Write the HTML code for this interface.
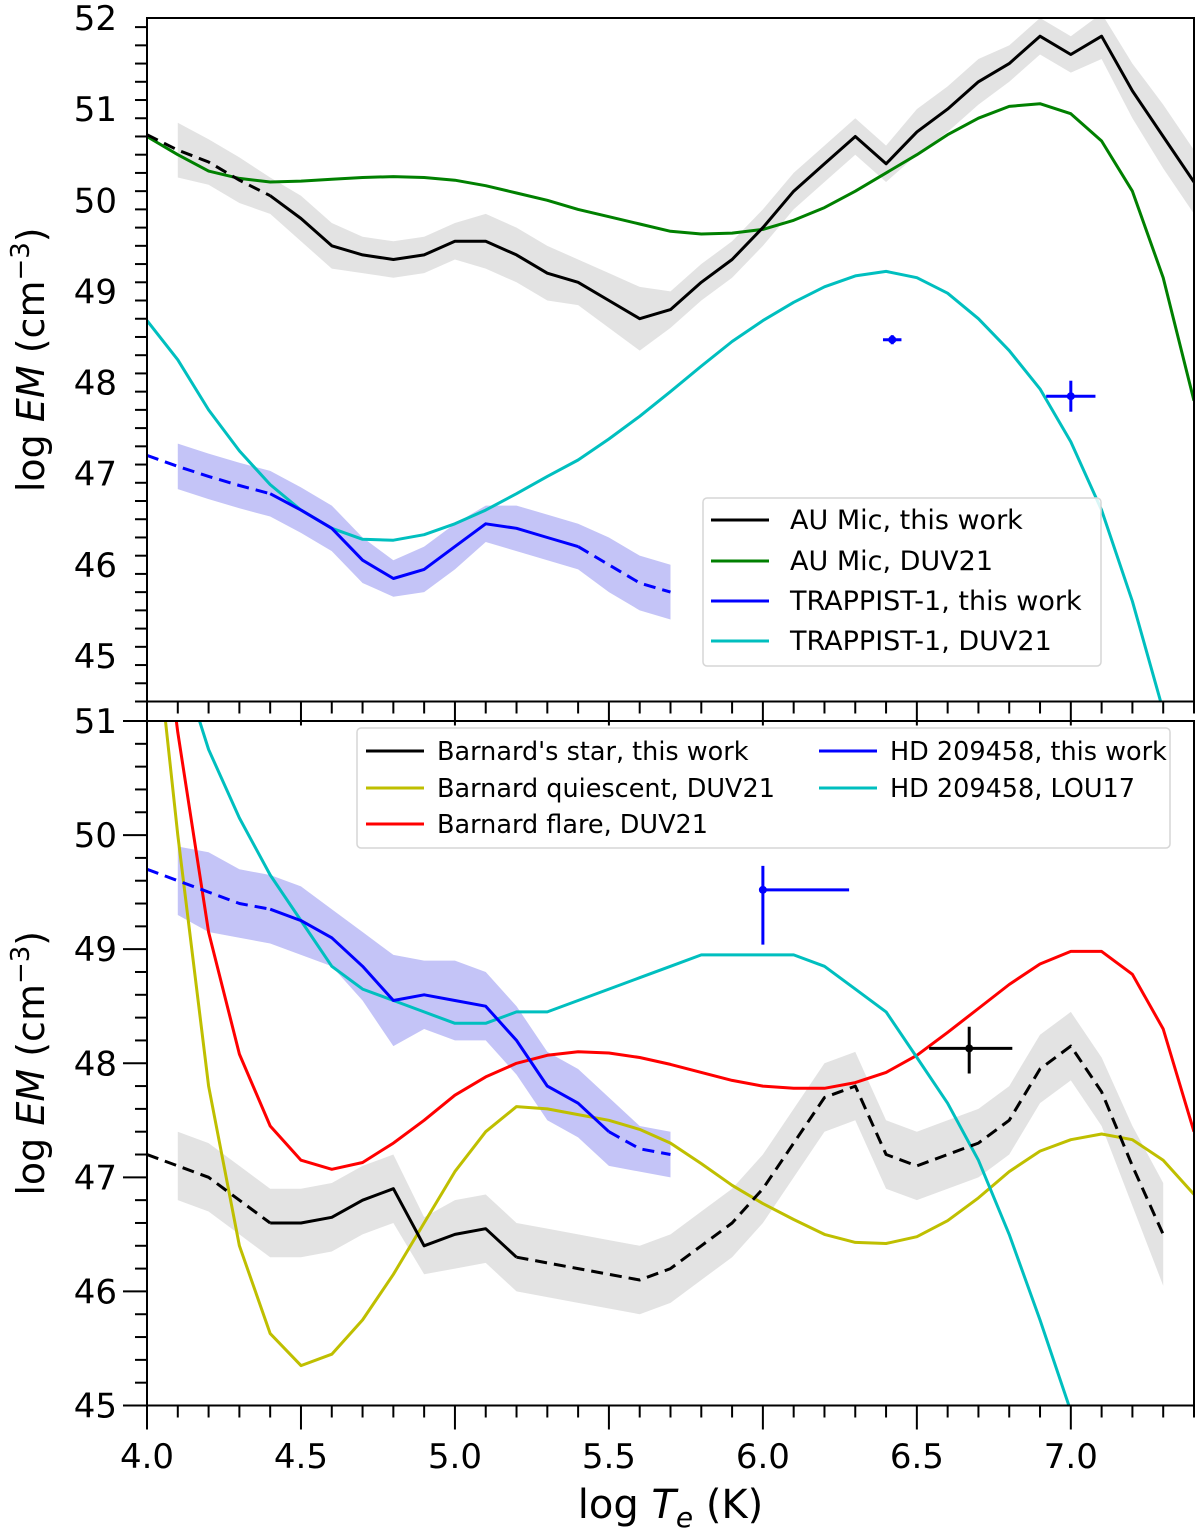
<!DOCTYPE html>
<html><head><meta charset="utf-8"><style>
html,body{margin:0;padding:0;background:#fff;}
svg{display:block;font-family:"DejaVu Sans","Liberation Sans",sans-serif;}
</style></head><body>
<svg id="chart" width="1200" height="1533" xmlns="http://www.w3.org/2000/svg"></svg>
<script>
// ---- data ----
const tGrid = [4.0,4.1,4.2,4.3,4.4,4.5,4.6,4.7,4.8,4.9,5.0,5.1,5.2,5.3,5.4,5.5,5.6,5.7,5.8,5.9,6.0,6.1,6.2,6.3,6.4,6.5,6.6,6.7,6.8,6.9,7.0,7.1,7.2,7.3,7.4];
const auMicWork = [50.72,50.55,50.42,50.22,50.05,49.8,49.5,49.4,49.35,49.4,49.55,49.55,49.4,49.2,49.1,48.9,48.7,48.8,49.1,49.35,49.7,50.1,50.4,50.7,50.4,50.75,51.0,51.3,51.5,51.8,51.6,51.8,51.2,50.7,50.2];
const auMicErr = [0.15,0.3,0.25,0.25,0.2,0.25,0.25,0.2,0.2,0.2,0.2,0.3,0.3,0.3,0.25,0.3,0.35,0.2,0.2,0.2,0.2,0.2,0.2,0.2,0.2,0.25,0.25,0.25,0.2,0.2,0.2,0.25,0.3,0.35,0.35];
const auMicDuv = [50.7,50.5,50.32,50.24,50.2,50.21,50.23,50.25,50.26,50.25,50.22,50.16,50.08,50.0,49.9,49.82,49.74,49.66,49.63,49.64,49.68,49.78,49.92,50.1,50.3,50.5,50.72,50.9,51.03,51.06,50.95,50.65,50.1,49.15,47.8];
const trapDuv = [48.68,48.25,47.7,47.25,46.88,46.6,46.4,46.28,46.27,46.33,46.45,46.6,46.78,46.97,47.15,47.38,47.63,47.9,48.18,48.45,48.68,48.88,49.05,49.17,49.22,49.15,48.98,48.7,48.35,47.93,47.35,46.6,45.6,44.4];
const trapWork = [47.2,47.08,46.97,46.87,46.78,46.6,46.4,46.05,45.85,45.95,46.2,46.45,46.4,46.3,46.2,46.0,45.8,45.7];
const trapErr = [0.25,0.25,0.25,0.25,0.25,0.25,0.25,0.25,0.2,0.25,0.25,0.2,0.25,0.25,0.25,0.3,0.3,0.3];
const topPoints = [[6.42,48.47,0.03,0.03,0.05,0.05],[7.0,47.85,0.08,0.08,0.17,0.17]];

const barnWork = [47.2,47.1,47.0,46.8,46.6,46.6,46.65,46.8,46.9,46.4,46.5,46.55,46.3,46.25,46.2,46.15,46.1,46.2,46.4,46.6,46.9,47.3,47.7,47.8,47.2,47.1,47.2,47.3,47.5,47.95,48.15,47.75,47.1,46.5];
const barnErr = [0.3,0.3,0.3,0.3,0.3,0.3,0.3,0.3,0.3,0.25,0.3,0.3,0.3,0.3,0.3,0.3,0.3,0.3,0.3,0.3,0.3,0.3,0.3,0.3,0.3,0.3,0.3,0.3,0.3,0.3,0.3,0.3,0.35,0.45];
const barnQuiet = [52.5,50.0,47.8,46.4,45.63,45.35,45.45,45.75,46.15,46.6,47.05,47.4,47.62,47.6,47.55,47.5,47.42,47.3,47.12,46.93,46.77,46.63,46.5,46.43,46.42,46.48,46.62,46.82,47.05,47.23,47.33,47.38,47.33,47.15,46.85];
const barnFlare = [53.0,50.9,49.15,48.08,47.45,47.15,47.07,47.13,47.3,47.5,47.72,47.88,48.0,48.07,48.1,48.09,48.05,47.99,47.92,47.85,47.8,47.78,47.78,47.83,47.92,48.07,48.27,48.48,48.69,48.87,48.98,48.98,48.78,48.3,47.4];
const hdLou = [52.6,51.6,50.75,50.15,49.65,49.25,48.85,48.65,48.55,48.45,48.35,48.35,48.45,48.45,48.55,48.65,48.75,48.85,48.95,48.95,48.95,48.95,48.85,48.65,48.45,48.05,47.65,47.15,46.5,45.75,44.95];
const hdWork = [49.7,49.6,49.5,49.4,49.35,49.25,49.1,48.85,48.55,48.6,48.55,48.5,48.2,47.8,47.65,47.4,47.25,47.2];
const hdErr = [0.3,0.3,0.35,0.3,0.3,0.3,0.25,0.3,0.4,0.3,0.35,0.3,0.3,0.3,0.3,0.3,0.2,0.2];
const botPoints = [[6.0,49.52,0,0.28,0.48,0.21,'#0000ff'],[6.67,48.13,0.13,0.14,0.22,0.19,'#000000']];
const topYTicks = [45,46,47,48,49,50,51,52];
const botYTicks = [45,46,47,48,49,50,51];
const xTicks = [4.0,4.5,5.0,5.5,6.0,6.5,7.0];

// ---- scales ----
const svg = document.getElementById('chart');
const NS = 'http://www.w3.org/2000/svg';
const X0=147, X1=1194, XMIN=4.0, XMAX=7.4;
const sx = t => X0 + (t-XMIN)/(XMAX-XMIN)*(X1-X0);
const panels = {
  top:{y0:18,y1:701.5,vmin:44.5,vmax:52},
  bot:{y0:721,y1:1405.5,vmin:45,vmax:51}
};
const sy = (p,v) => p.y0 + (p.vmax-v)/(p.vmax-p.vmin)*(p.y1-p.y0);
function mk(tag, attrs, parent){
  const e=document.createElementNS(NS,tag);
  for(const k in attrs) e.setAttribute(k,attrs[k]);
  (parent||svg).appendChild(e); return e;
}
function clipFor(id,p){
  const c=mk('clipPath',{id:id});
  mk('rect',{x:X0,y:p.y0,width:X1-X0,height:p.y1-p.y0},c);
}
clipFor('clipTop',panels.top); clipFor('clipBot',panels.bot);

function ptsStr(p,vals,from,to){
  const a=[]; for(let i=from;i<=to&&i<vals.length;i++) a.push(sx(tGrid[i]).toFixed(1)+','+sy(p,vals[i]).toFixed(1));
  return a.join(' ');
}
function band(p,vals,err,color,name,clip,start){
  const up=[],dn=[];
  for(let i=start;i<vals.length;i++){up.push(sx(tGrid[i])+','+sy(p,vals[i]+err[i]));dn.unshift(sx(tGrid[i])+','+sy(p,vals[i]-err[i]));}
  const e=mk('polygon',{points:up.concat(dn).join(' '),fill:color,stroke:'none','clip-path':'url(#'+clip+')'});
  
  
}
function line(p,vals,color,name,clip,from,to,dashed){
  const e=mk('polyline',{points:ptsStr(p,vals,from,to),fill:'none',stroke:color,'stroke-width':3,'stroke-linejoin':'round','clip-path':'url(#'+clip+')'});
  if(dashed) e.setAttribute('stroke-dasharray','12,7');
  
  
}
function errPoint(p,d,color,name){
  const g=mk('g',{stroke:color,'stroke-width':3});
  
  
  const x=sx(d[0]), y=sy(p,d[1]);
  mk('line',{x1:sx(d[0]-d[2]),x2:sx(d[0]+d[3]),y1:y,y2:y},g);
  mk('line',{x1:x,x2:x,y1:sy(p,d[1]+d[5]),y2:sy(p,d[1]-d[4])},g);
  mk('circle',{cx:x,cy:y,r:4,fill:color,stroke:'none'},g);
}

// top panel
band(panels.top,auMicWork,auMicErr,'#e3e3e3','au-mic-uncertainty-band','clipTop',1);
band(panels.top,trapWork,trapErr,'#c4c4f7','trappist-uncertainty-band','clipTop',1);
line(panels.top,auMicDuv,'#008000','au-mic-duv21-line','clipTop',0,99,false);
line(panels.top,trapDuv,'#00bfbf','trappist-duv21-line','clipTop',0,99,false);
line(panels.top,auMicWork,'#000','au-mic-this-work-dashed','clipTop',0,4,true);
line(panels.top,auMicWork,'#000','au-mic-this-work-line','clipTop',4,99,false);
line(panels.top,trapWork,'#0000ff','trappist-this-work-dashed','clipTop',0,4,true);
line(panels.top,trapWork,'#0000ff','trappist-this-work-line','clipTop',4,14,false);
line(panels.top,trapWork,'#0000ff','trappist-this-work-dashed-end','clipTop',14,99,true);
topPoints.forEach((d,i)=>errPoint(panels.top,d,'#0000ff','trappist-xray-point-'+(i+1)));

// bottom panel
band(panels.bot,barnWork,barnErr,'#e3e3e3','barnard-uncertainty-band','clipBot',1);
band(panels.bot,hdWork,hdErr,'#c4c4f7','hd209458-uncertainty-band','clipBot',1);
line(panels.bot,barnQuiet,'#bfbf00','barnard-quiescent-line','clipBot',0,99,false);
line(panels.bot,barnFlare,'#ff0000','barnard-flare-line','clipBot',0,99,false);
line(panels.bot,hdLou,'#00bfbf','hd209458-lou17-line','clipBot',0,99,false);
line(panels.bot,barnWork,'#000','barnard-this-work-dashed','clipBot',0,4,true);
line(panels.bot,barnWork,'#000','barnard-this-work-line','clipBot',4,12,false);
line(panels.bot,barnWork,'#000','barnard-this-work-dashed-end','clipBot',12,99,true);
line(panels.bot,hdWork,'#0000ff','hd209458-this-work-dashed','clipBot',0,4,true);
line(panels.bot,hdWork,'#0000ff','hd209458-this-work-line','clipBot',4,15,false);
line(panels.bot,hdWork,'#0000ff','hd209458-this-work-dashed-end','clipBot',15,99,true);
errPoint(panels.bot,botPoints[0],botPoints[0][6],'hd209458-xray-point');
errPoint(panels.bot,botPoints[1],botPoints[1][6],'barnard-xray-point');

// axes
function axes(p,yticks,name,showXLabels){
  const g=mk('g',{stroke:'#000','stroke-width':2,fill:'none'});
  
  
  mk('rect',{x:X0,y:p.y0,width:X1-X0,height:p.y1-p.y0},g);
  for(let t=4.0;t<=7.41;t+=0.1){
    const x=sx(t), major=Math.abs(t*2-Math.round(t*2))<1e-6;
    mk('line',{x1:x,x2:x,y1:p.y1,y2:p.y1+(major?24:12)},g);
  }
  for(let v=p.vmin;v<=p.vmax+1e-6;v+=0.2){
    const y=sy(p,v), major=Math.abs(v-Math.round(v))<1e-6;
    mk('line',{x1:X0,x2:X0-(major?24:12),y1:y,y2:y},g);
  }
  yticks.forEach(v=>{
    const t=mk('text',{x:X0-30,y:sy(p,v)+12,'text-anchor':'end','font-size':34,fill:'#000'});
    t.textContent=v;
    
    
  });
  const cy=(p.y0+p.y1)/2;
  const yl=mk('text',{x:44,y:cy,'text-anchor':'middle','font-size':38,fill:'#000',transform:'rotate(-90 44 '+cy+')'});
  yl.innerHTML='log <tspan font-style="italic">EM</tspan> (cm<tspan dy="-15" font-size="26">−3</tspan><tspan dy="15">)</tspan>';
  
  
  if(showXLabels){
    xTicks.forEach(v=>{
      const t=mk('text',{x:sx(v),y:1468,'text-anchor':'middle','font-size':34,fill:'#000'});
      t.textContent=v.toFixed(1);
      
      
    });
    const xl=mk('text',{x:sx(5.7),y:1518,'text-anchor':'middle','font-size':40,fill:'#000'});
    xl.innerHTML='log <tspan font-style="italic">T</tspan><tspan font-style="italic" dy="9" font-size="28">e</tspan><tspan dy="-9"> (K)</tspan>';
    
    
  }
}
axes(panels.top,topYTicks,'top-panel',false);
axes(panels.bot,botYTicks,'bottom-panel',true);

// legends
function legend(x,y,w,h,entries,name,fs,off){
  const g=mk('g',{});
  
  
  mk('rect',{x:x,y:y,width:w,height:h,rx:4,fill:'#fff','fill-opacity':0.85,stroke:'#d6d6d6','stroke-width':1.5},g);
  entries.forEach(e=>{
    mk('line',{x1:e[0],x2:e[0]+58,y1:e[1],y2:e[1],stroke:e[3],'stroke-width':3},g);
    const t=mk('text',{x:e[0]+off,y:e[1]+9,'font-size':fs,fill:'#000'},g);
    t.textContent=e[2];
    
    
  });
}
legend(703,498,398,168,[[711,520,'AU Mic, this work','#000'],[711,561,'AU Mic, DUV21','#008000'],[711,601,'TRAPPIST-1, this work','#0000ff'],[711,641,'TRAPPIST-1, DUV21','#00bfbf']],'top-legend',27,79);
legend(357,728,813,120,[[366,751,"Barnard's star, this work",'#000'],[366,788,'Barnard quiescent, DUV21','#bfbf00'],[366,824,'Barnard flare, DUV21','#ff0000'],[819,751,'HD 209458, this work','#0000ff'],[819,788,'HD 209458, LOU17','#00bfbf']],'bottom-legend',25.5,71);
</script>
</body></html>
